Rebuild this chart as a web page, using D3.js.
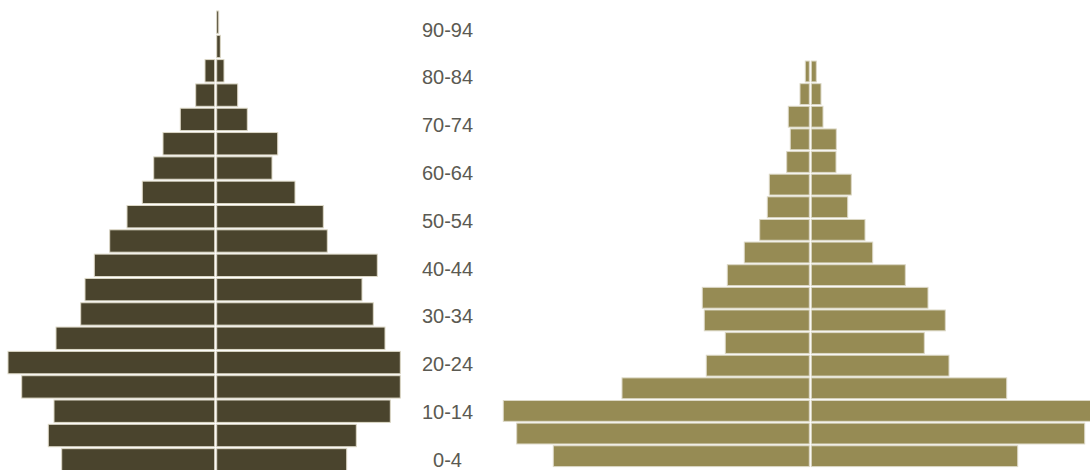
<!DOCTYPE html>
<html>
<head>
<meta charset="utf-8">
<script src="https://cdn.jsdelivr.net/npm/d3@7"></script>
<style>
  html, body { margin: 0; padding: 0; background: #fff; }
  svg { display: block; }
</style>
</head>
<body>
<svg id="chart" width="1090" height="470"></svg>
<script>
// Age groups (bottom to top)
const ages = ["0-4","5-9","10-14","15-19","20-24","25-29","30-34","35-39","40-44","45-49",
              "50-54","55-59","60-64","65-69","70-74","75-79","80-84","85-89","90-94"];
const ageTickLabels = ["0-4","10-14","20-24","30-34","40-44","50-54","60-64","70-74","80-84","90-94"];

// Pyramid A (dark) — left and right halves
const pyrALeft  = [153,166.4,160.7,193,206.7,158.7,134,129.7,120.4,105,87.7,72.4,61,51.7,34.4,19,9.7,0,0];
const pyrARight = [130,139.6,173.6,183.6,183.6,168.3,156.6,145.3,160.6,110.6,106.6,78.3,55.3,61,30.6,21,7.3,3.6,2];

// Pyramid B (olive) — left and right halves
const pyrBLeft  = [256,292.6,306,187.3,103,84,105,107,82,65,49.6,42,40,22.6,19,21,9.3,4,0];
const pyrBRight = [206.4,273.4,290,195.4,137.7,113,134,116.7,94,61.4,53.7,36.4,40,24.7,25,11.7,9.7,5,0];

const svg = d3.select("#chart");
const x = d3.scaleLinear().domain([0, 300]).range([0, 300]);
const agesTopDown = ages.slice().reverse();

function pyramid(cx, yRange, leftVals, rightVals, color) {
  const y = d3.scaleBand().domain(agesTopDown).range(yRange).paddingInner(0.08).paddingOuter(0.04);
  const g = svg.append("g");
  const rows = ages.map((a, i) => ({ age: a, l: leftVals[i], r: rightVals[i] }));
  g.selectAll("rect.l").data(rows.filter(d => d.l > 0)).join("rect")
    .attr("class", "l")
    .attr("x", d => cx - 1 - x(d.l))
    .attr("y", d => y(d.age))
    .attr("width", d => x(d.l))
    .attr("height", y.bandwidth())
    .attr("fill", color)
    .attr("stroke", "#dcd8c6")
    .attr("stroke-width", 1);
  g.selectAll("rect.r").data(rows.filter(d => d.r > 0)).join("rect")
    .attr("class", "r")
    .attr("x", cx + 1)
    .attr("y", d => y(d.age))
    .attr("width", d => x(d.r))
    .attr("height", y.bandwidth())
    .attr("fill", color)
    .attr("stroke", "#dcd8c6")
    .attr("stroke-width", 1);
}

pyramid(215.7, [10, 472], pyrALeft, pyrARight, "#4a442d");
pyramid(810.3, [37.5, 467.5], pyrBLeft, pyrBRight, "#968b54");

// Age labels
const yLab = d3.scaleBand().domain(agesTopDown).range([17.25, 471.4]);
svg.append("g").selectAll("text").data(ageTickLabels).join("text")
  .attr("x", 447.5)
  .attr("y", d => yLab(d) + yLab.bandwidth() / 2 + 7.3)
  .attr("text-anchor", "middle")
  .attr("font-family", "Liberation Sans, Arial, sans-serif")
  .attr("font-size", 20)
  .attr("fill", "#5b5a52")
  .text(d => d);
</script>
</body>
</html>
